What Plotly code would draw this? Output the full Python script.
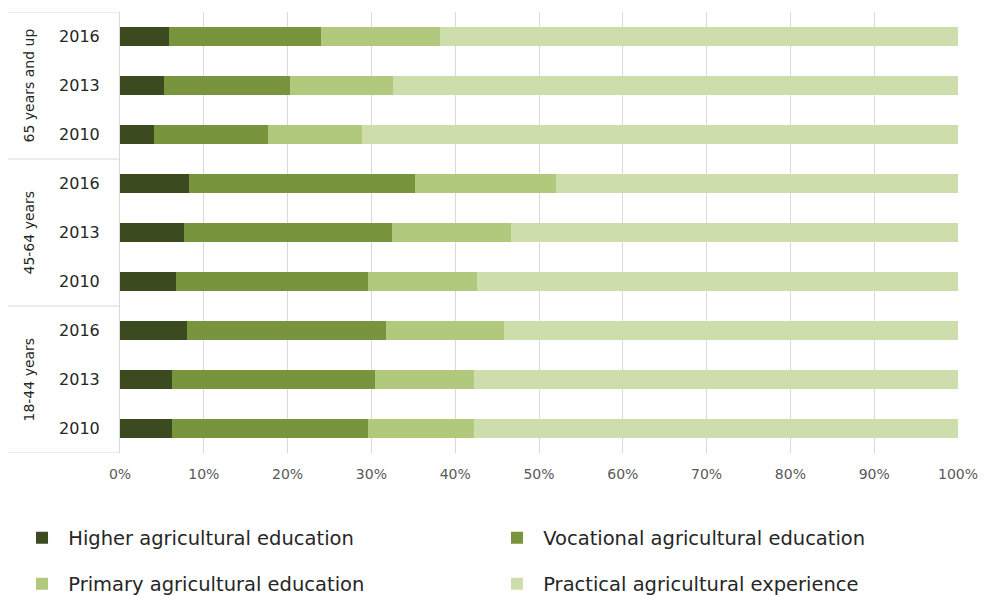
import plotly.graph_objects as go

# Age groups and survey years (bottom to top)
age_groups = ["18-44 years", "45-64 years", "65 years and up"]
years = ["2010", "2013", "2016"]

# Share of farm managers by type of agricultural training (%), ordered
# 18-44 (2010, 2013, 2016), 45-64 (...), 65+ (...)
higher = [6.2, 6.2, 8.0, 6.7, 7.6, 8.2, 4.1, 5.2, 5.9]
vocational = [23.4, 24.2, 23.7, 22.9, 24.8, 27.0, 13.6, 15.1, 18.1]
primary = [12.7, 11.8, 14.1, 13.0, 14.2, 16.8, 11.2, 12.3, 14.2]
practical = [57.7, 57.8, 54.2, 57.4, 53.4, 48.0, 71.1, 67.4, 61.8]

series_names = [
    "Higher agricultural education",
    "Vocational agricultural education",
    "Primary agricultural education",
    "Practical agricultural experience",
]
series_values = [higher, vocational, primary, practical]
series_colors = ["#3b4a1f", "#78943c", "#b0c97c", "#cdddab"]

x_ticks = list(range(0, 101, 10))
x_tick_labels = [f"{v}%" for v in x_ticks]

# Unique category ids; only the year is shown as tick text
row_ids = [f"{g} {y}" for g in age_groups for y in years]
row_years = [y for g in age_groups for y in years]

FONT = "DejaVu Sans"
LEGEND_FONT = "DejaVu Sans"

# One legend box per series, laid out as a 2x2 grid under the chart
legend_ids = ["legend", "legend2", "legend3", "legend4"]
legend_x = [0.0224, 0.5056, 0.0224, 0.5056]
legend_y = [1 - 538 / 595, 1 - 538 / 595, 1 - 584 / 595, 1 - 584 / 595]

fig = go.Figure()
for name, vals, color, lg in zip(series_names, series_values, series_colors, legend_ids):
    fig.add_trace(go.Bar(
        name="\u00a0" + name,
        x=vals,
        y=row_ids,
        orientation="h",
        marker=dict(color=color, line=dict(width=0)),
        width=0.4,
        legend=lg,
        hoverinfo="x+name",
    ))

# Rotated age-group labels centred on each group's middle row
for g in age_groups:
    fig.add_annotation(
        x=-0.1086, xref="paper", xanchor="center",
        y=f"{g} {years[1]}", yref="y", yanchor="middle",
        text=g, textangle=-90, showarrow=False,
        font=dict(family=FONT, size=14, color="#262626"),
    )

# Group dividers in the category column
n_rows = len(row_ids)
for b in [-0.5, 2.5, 5.5, n_rows - 0.5]:
    fig.add_shape(
        type="line", xref="paper", yref="y",
        x0=-0.1337, x1=0, y0=b, y1=b,
        line=dict(color="#d9d9d9", width=1),
        layer="below",
    )

legend_layout = {}
for lg, lx, ly in zip(legend_ids, legend_x, legend_y):
    legend_layout[lg] = dict(
        orientation="h", xref="container", yref="container",
        x=lx, xanchor="left", y=ly, yanchor="middle",
        font=dict(family=LEGEND_FONT, size=19.5, color="#262626"),
        bgcolor="rgba(0,0,0,0)",
    )

fig.update_layout(
    width=983, height=595,
    barmode="stack",
    plot_bgcolor="white",
    paper_bgcolor="white",
    margin=dict(l=120, r=25, t=12, b=142, pad=0, autoexpand=False),
    xaxis=dict(
        range=[0, 100],
        tickmode="array", tickvals=x_ticks, ticktext=x_tick_labels,
        showgrid=True, gridcolor="#d9d9d9", gridwidth=1,
        zeroline=False, showline=False, ticks="",
        ticklabelstandoff=11,
        tickfont=dict(family=FONT, size=14, color="#595959"),
        fixedrange=True,
    ),
    yaxis=dict(
        type="category",
        categoryorder="array", categoryarray=row_ids,
        tickmode="array", tickvals=row_ids, ticktext=row_years,
        range=[-0.5, n_rows - 0.5],
        showgrid=False, zeroline=False,
        showline=True, linecolor="#d9d9d9", linewidth=1,
        ticks="", ticklabelstandoff=16,
        tickfont=dict(family=FONT, size=16, color="#262626"),
        fixedrange=True,
    ),
    showlegend=True,
    **legend_layout,
)

fig.write_html("out.html")
